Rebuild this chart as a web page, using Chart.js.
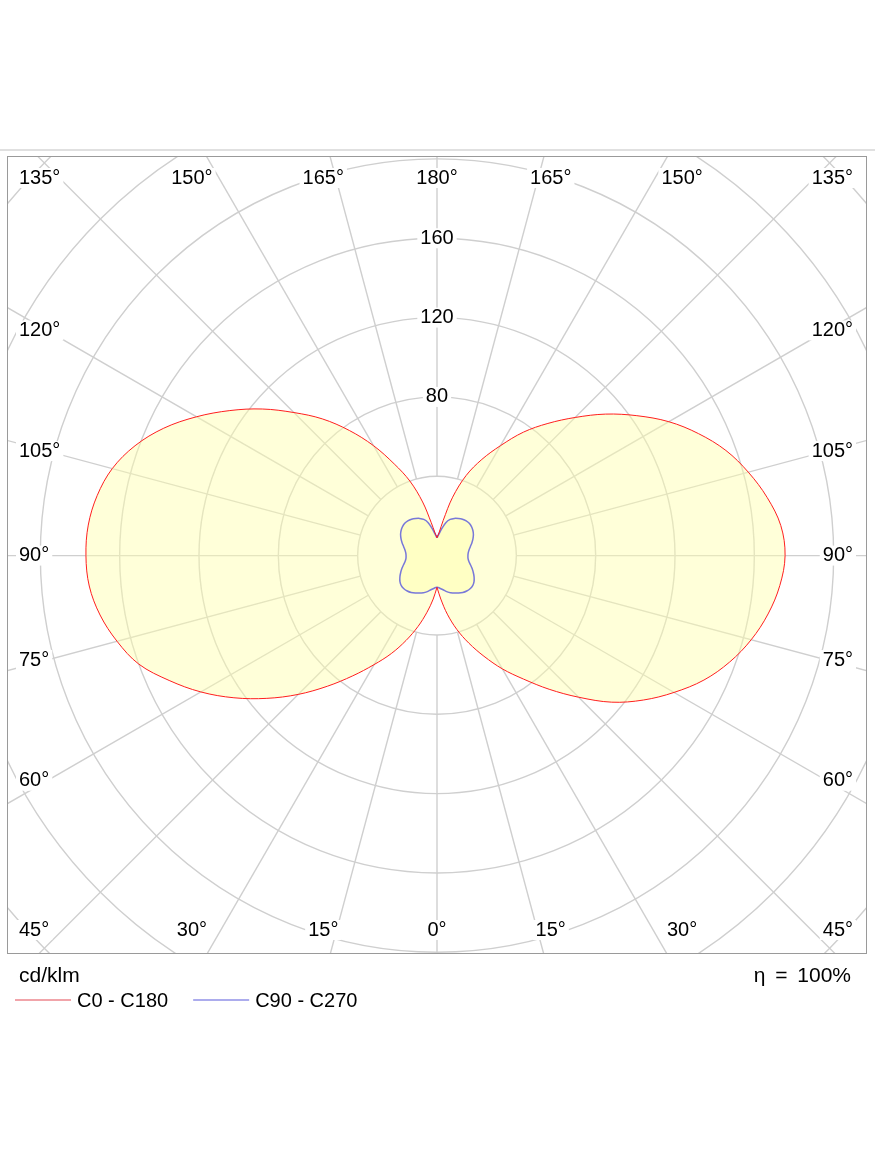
<!DOCTYPE html>
<html>
<head>
<meta charset="utf-8">
<script src="https://cdn.jsdelivr.net/npm/chart.js@4/dist/chart.umd.min.js"></script>
<style>
  body { margin: 0; background: #fff; }
  #wrap { width: 875px; height: 1166px; }
</style>
</head>
<body>
<div id="wrap"><canvas id="myChart" width="875" height="1166"></canvas></div>
<script>
// gamma angle in degrees: 0 = straight down, 180 = straight up
const gamma = [0, 5, 10, 15, 20, 25, 30, 35, 40, 45, 50, 55, 60, 65, 70, 75, 80, 85, 90,
               95, 100, 105, 110, 115, 120, 125, 130, 135, 140, 145, 150, 155, 160, 165, 170, 175, 180];

// luminous intensity, cd/klm
const c0   = [16, 22, 30, 38.5, 47, 56, 66, 76, 88, 101, 115, 127, 138, 148.5, 157, 164, 169.5, 173.5, 175.5,
              174, 169, 162.5, 155, 145.5, 135, 123, 111, 98.5, 87, 76, 64, 53.5, 43, 30.5, 18, 11.5, 9];
const c180 = [16, 22, 29, 37, 45.5, 54.5, 63.5, 74, 86, 99, 112, 125, 137.5, 149, 160, 167, 172.5, 176, 177,
              176.5, 174, 169.5, 162, 152, 140, 127.5, 115, 102, 90, 77, 64, 51, 40, 28, 17, 11.5, 9];
const c90  = [16, 16.5, 17.5, 18.8, 20, 20.8, 21.8, 22.7, 23.3, 23.6, 23.5, 22.8, 21.6, 20.2, 18.8, 17.4, 16.3, 15.7, 15.6,
              15.8, 16.4, 17.4, 18.7, 20, 21.2, 22.1, 22.7, 23, 22.9, 22.4, 21.6, 20.7, 19.4, 17.2, 13.8, 10.8, 9];
const c270 = [16, 16.5, 17.5, 18.8, 20, 20.8, 21.8, 22.7, 23.3, 23.6, 23.5, 22.8, 21.6, 20.2, 18.8, 17.4, 16.3, 15.7, 15.6,
              15.8, 16.4, 17.4, 18.7, 20, 21.2, 22.1, 22.7, 23, 22.9, 22.4, 21.6, 20.7, 19.4, 17.2, 13.8, 10.8, 9];

const rings = [40, 80, 120, 160, 200, 240, 280];
const ringLabels = [80, 120, 160];
const angleTicks = [0, 15, 30, 45, 60, 75, 90, 105, 120, 135, 150, 165, 180];
const unitText = "cd/klm";
const etaText = "η = 100%";

const FONT = '"Liberation Sans", Arial, sans-serif';

// polar (gamma, I) -> x/y in cd/klm, side = 1 right half, -1 left half
function toXY(values, side) {
    return gamma.map((g, i) => {
        const a = g * Math.PI / 180;
        return { x: side * values[i] * Math.sin(a), y: -values[i] * Math.cos(a) };
    });
}

const redPts = toXY(c0, 1).reverse().concat(toXY(c180, -1));
const bluePts = toXY(c90, 1).reverse().concat(toXY(c270, -1));

function boxText(ctx, text, x, y, align) {
    const w = ctx.measureText(text).width;
    let left = x - w / 2;
    if (align === "left") left = x;
    if (align === "right") left = x - w;
    ctx.fillStyle = "#fff";
    ctx.fillRect(left - 3, y - 10, w + 6, 20);
    ctx.fillStyle = "#000";
    ctx.textAlign = "left";
    ctx.fillText(text, left, y);
}

const polarGrid = {
    id: "polarGrid",
    beforeDatasetsDraw(chart) {
        const { ctx, chartArea: a, scales: { x, y } } = chart;
        const cx = x.getPixelForValue(0), cy = y.getPixelForValue(0);
        const k = x.getPixelForValue(1) - cx;
        ctx.save();
        ctx.beginPath();
        ctx.rect(a.left, a.top, a.right - a.left, a.bottom - a.top);
        ctx.clip();

        ctx.strokeStyle = "#cfcfcf";
        ctx.lineWidth = 1.4;
        rings.forEach(v => {
            ctx.beginPath();
            ctx.arc(cx, cy, v * k, 0, 2 * Math.PI);
            ctx.stroke();
        });
        const r0 = rings[0] * k;
        for (let d = 0; d < 360; d += 15) {
            const t = d * Math.PI / 180;
            ctx.beginPath();
            ctx.moveTo(cx + r0 * Math.sin(t), cy + r0 * Math.cos(t));
            ctx.lineTo(cx + 900 * Math.sin(t), cy + 900 * Math.cos(t));
            ctx.stroke();
        }

        // angle labels along the frame
        ctx.font = "20px " + FONT;
        ctx.textBaseline = "middle";
        const xMin = a.left + 12, xMax = a.right - 13;
        angleTicks.forEach(t => {
            const sides = (t === 0 || t === 180) ? [1] : [-1, 1];
            const rad = t * Math.PI / 180;
            sides.forEach(s => {
                const txt = t + "°";
                const w = ctx.measureText(txt).width;
                if (t >= 60 && t <= 120) {
                    const ly = cy + 390 * Math.cos(rad) / Math.sin(rad);
                    if (s < 0) boxText(ctx, txt, xMin, ly, "left");
                    else boxText(ctx, txt, xMax, ly, "right");
                } else {
                    const ly = t < 90 ? a.bottom - 23 : a.top + 22;
                    let lx = cx + s * 424.5 * Math.abs(Math.tan(rad));
                    lx = Math.max(xMin + w / 2, Math.min(xMax - w / 2, lx));
                    boxText(ctx, txt, lx, ly, "center");
                }
            });
        });
        ringLabels.forEach(v => boxText(ctx, String(v), cx, cy - v * k, "center"));
        ctx.restore();
    },
    afterDraw(chart) {
        const { ctx, chartArea: a } = chart;
        ctx.save();
        ctx.fillStyle = "#e0e0e0";
        ctx.fillRect(0, 149, chart.width, 2);
        ctx.strokeStyle = "#9a9a9a";
        ctx.lineWidth = 1;
        ctx.strokeRect(a.left + 0.5, a.top + 0.5, a.right - a.left, a.bottom - a.top);

        ctx.fillStyle = "#000";
        ctx.textBaseline = "middle";
        ctx.font = "21px " + FONT;
        ctx.textAlign = "left";
        ctx.fillText(unitText, 19, 976);
        ctx.textAlign = "right";
        ctx.wordSpacing = "4px";
        ctx.fillText(etaText, 851, 976);
        ctx.wordSpacing = "0px";

        // legend
        ctx.font = "20px " + FONT;
        ctx.textAlign = "left";
        const legendColors = ["rgba(230,90,100,0.55)", "rgba(90,90,220,0.5)"];
        let lx = 15;
        chart.data.datasets.forEach((ds, i) => {
            ctx.strokeStyle = legendColors[i];
            ctx.lineWidth = 2;
            ctx.beginPath();
            ctx.moveTo(lx, 1000);
            ctx.lineTo(lx + 56, 1000);
            ctx.stroke();
            ctx.fillStyle = "#000";
            ctx.fillText(ds.label, lx + 62, 1001);
            lx += 62 + ctx.measureText(ds.label).width + 25;
        });
        ctx.restore();
    }
};

const ctx = document.getElementById("myChart");
new Chart(ctx, {
    type: "scatter",
    data: {
        datasets: [
            {
                label: "C0 - C180",
                data: redPts,
                showLine: true,
                fill: "shape",
                borderColor: "rgb(255,30,30)",
                backgroundColor: "rgba(255,255,170,0.45)",
                borderWidth: 1,
                pointRadius: 0,
                tension: 0.35,
            },
            {
                label: "C90 - C270",
                data: bluePts,
                showLine: true,
                fill: "shape",
                borderColor: "rgb(10,10,255)",
                backgroundColor: "rgba(255,255,170,0.45)",
                borderWidth: 1.5,
                pointRadius: 0,
                tension: 0.35,
            },
        ],
    },
    options: {
        responsive: false,
        animation: false,
        layout: { padding: { left: 7, top: 156, right: 9, bottom: 213 } },
        scales: {
            x: { type: "linear", min: -216.8, max: 216.3, display: false },
            y: { type: "linear", min: -200.4, max: 201.5, display: false },
        },
        plugins: {
            legend: { display: false },
            tooltip: { enabled: false },
        },
    },
    plugins: [polarGrid],
});
</script>
</body>
</html>
